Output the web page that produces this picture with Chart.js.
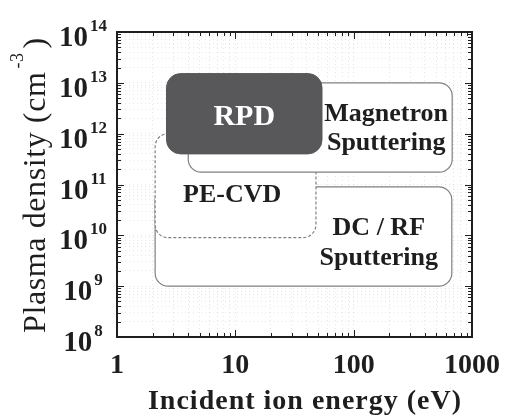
<!DOCTYPE html>
<html>
<head>
<meta charset="utf-8">
<script src="https://cdn.jsdelivr.net/npm/chart.js@4/dist/chart.umd.min.js"></script>
<style>
  html, body { margin: 0; padding: 0; background: #fff; overflow: hidden; }
  #wrap { width: 507px; height: 415px; position: relative; }
</style>
</head>
<body>
<div id="wrap"><canvas id="chart"></canvas></div>
<script>
// Operating windows of deposition processes: ion energy (eV) vs plasma density (cm^-3)
const regionNames = ['DC / RF Sputtering', 'PE-CVD', 'Magnetron Sputtering', 'RPD'];
const regionLabelLines = [['DC / RF', 'Sputtering'], ['PE-CVD'], ['Magnetron', 'Sputtering'], ['RPD']];
const energyMin = [2.1, 2.1, 4, 2.62];
const energyMax = [675, 48, 680, 54];
const densityMin = [1e9, 9e9, 1.75e11, 4e11];
const densityMax = [9e10, 1e12, 1e13, 1.52e13];

const energyDecades = [1, 10, 100, 1000];
const energyTickLabels = ['1', '10', '100', '1000'];
const densityDecades = [1e8, 1e9, 1e10, 1e11, 1e12, 1e13, 1e14];
const densityTickExponents = ['8', '9', '10', '11', '12', '13', '14'];

const SERIF = '"Liberation Serif", "Times New Roman", Times, serif';
const INK = '#1e1e1e';

// decade ticks plus 2..9 minor ticks between them
function logTicks(decades) {
  const out = [];
  decades.forEach((d, i) => {
    out.push({ value: d, major: true });
    if (i < decades.length - 1) {
      for (let m = 2; m <= 9; m++) out.push({ value: d * m, major: false });
    }
  });
  return out;
}

function roundRect(ctx, x0, y0, x1, y1, r) {
  const left = Math.min(x0, x1), right = Math.max(x0, x1);
  const top = Math.min(y0, y1), bottom = Math.max(y0, y1);
  ctx.beginPath();
  ctx.moveTo(left + r, top);
  ctx.lineTo(right - r, top);
  ctx.arcTo(right, top, right, top + r, r);
  ctx.lineTo(right, bottom - r);
  ctx.arcTo(right, bottom, right - r, bottom, r);
  ctx.lineTo(left + r, bottom);
  ctx.arcTo(left, bottom, left, bottom - r, r);
  ctx.lineTo(left, top + r);
  ctx.arcTo(left, top, left + r, top, r);
  ctx.closePath();
  return { left, right, top, bottom };
}

// where each region's caption sits inside its box
function labelLayout(index, b) {
  switch (index) {
    case 0: return { cx: b.right - 73, baselines: [b.top + 48, b.top + 78] };
    case 1: return { cx: b.left + 77, baselines: [b.bottom - 36] };
    case 2: return { cx: b.right - 66, baselines: [b.top + 38.5, b.top + 67] };
    default: return { cx: (b.left + b.right) / 2, baselines: [(b.top + b.bottom) / 2 + 11] };
  }
}

const regionPlugin = {
  id: 'regionBoxes',
  beforeDraw(chart) {
    const ctx = chart.ctx;
    ctx.save();
    ctx.fillStyle = '#ffffff';
    ctx.fillRect(0, 0, chart.width, chart.height);
    ctx.restore();
  },
  beforeDatasetsDraw(chart) {
    const ctx = chart.ctx;
    chart.data.datasets.forEach((ds, i) => {
      const pts = chart.getDatasetMeta(i).data;
      if (!pts || pts.length < 2) return;
      ctx.save();
      const b = roundRect(ctx, pts[0].x, pts[0].y, pts[1].x, pts[1].y, ds.cornerRadius);
      ctx.fillStyle = ds.backgroundColor;
      ctx.fill();
      ctx.setLineDash(ds.borderDash || []);
      ctx.lineWidth = ds.borderWidth;
      ctx.strokeStyle = ds.borderColor;
      ctx.stroke();
      ctx.setLineDash([]);
      const lay = labelLayout(i, b);
      ctx.fillStyle = ds.labelColor;
      ctx.font = 'bold ' + ds.labelSize + 'px ' + SERIF;
      ctx.textAlign = 'center';
      ctx.textBaseline = 'alphabetic';
      regionLabelLines[i].forEach((line, k) => ctx.fillText(line, lay.cx, lay.baselines[k]));
      ctx.restore();
    });
  },
  afterDraw(chart) {
    const ctx = chart.ctx;
    const a = chart.chartArea;
    const xs = chart.scales.x, ys = chart.scales.y;
    ctx.save();
    // inward tick marks on all four sides
    ctx.strokeStyle = INK;
    ctx.lineWidth = 1;
    ctx.beginPath();
    xs.ticks.forEach(t => {
      const px = Math.round(xs.getPixelForValue(t.value)) + 0.5;
      if (px <= a.left + 1 || px >= a.right - 1) return;
      const len = t.major ? 7 : 4;
      ctx.moveTo(px, a.bottom); ctx.lineTo(px, a.bottom - len);
      ctx.moveTo(px, a.top); ctx.lineTo(px, a.top + len);
    });
    ys.ticks.forEach(t => {
      const py = Math.round(ys.getPixelForValue(t.value)) + 0.5;
      if (py <= a.top + 1 || py >= a.bottom - 1) return;
      const len = t.major ? 7 : 4;
      ctx.moveTo(a.left, py); ctx.lineTo(a.left + len, py);
      ctx.moveTo(a.right, py); ctx.lineTo(a.right - len, py);
    });
    ctx.stroke();
    // plot frame
    ctx.lineWidth = 2;
    ctx.strokeRect(a.left, a.top, a.right - a.left, a.bottom - a.top);

    ctx.fillStyle = INK;
    ctx.textBaseline = 'alphabetic';
    // x tick labels
    ctx.font = 'bold 28px ' + SERIF;
    ctx.textAlign = 'center';
    energyDecades.forEach((v, i) => {
      ctx.fillText(energyTickLabels[i], xs.getPixelForValue(v), a.bottom + 36);
    });
    // y tick labels as 10 with a raised exponent
    ctx.textAlign = 'left';
    densityDecades.forEach((v, i) => {
      const py = ys.getPixelForValue(v);
      ctx.font = 'bold 29px ' + SERIF;
      const wBase = ctx.measureText('10').width;
      ctx.font = 'bold 17px ' + SERIF;
      const wExp = ctx.measureText(densityTickExponents[i]).width;
      const start = 83 - (wBase + 2 + wExp) / 2;
      ctx.font = 'bold 29px ' + SERIF;
      ctx.fillText('10', start, py + 14);
      ctx.font = 'bold 17px ' + SERIF;
      ctx.fillText(densityTickExponents[i], start + wBase + 2, py - 1);
    });
    // x axis title
    ctx.font = 'bold 28px ' + SERIF;
    ctx.letterSpacing = '1px';
    ctx.textAlign = 'center';
    ctx.fillText('Incident ion energy (eV)', 305, 409);
    // y axis title, rotated, with superscript unit
    ctx.translate(45, 333);
    ctx.rotate(-Math.PI / 2);
    ctx.textAlign = 'left';
    ctx.letterSpacing = '0.6px';
    ctx.font = '32px ' + SERIF;
    const main = 'Plasma density (cm';
    const w1 = ctx.measureText(main).width;
    ctx.fillText(main, 0, 0);
    ctx.font = '18px ' + SERIF;
    const sup = '-3';
    const w2 = ctx.measureText(sup).width;
    ctx.fillText(sup, w1 + 3, -22);
    ctx.font = '32px ' + SERIF;
    ctx.fillText(')', w1 + w2 + 7, 0);
    ctx.restore();
  }
};

const datasets = regionNames.map((name, i) => ({
  label: name,
  data: [{ x: energyMin[i], y: densityMin[i] }, { x: energyMax[i], y: densityMax[i] }],
  pointRadius: 0,
  pointHoverRadius: 0,
  showLine: false,
  backgroundColor: i === 3 ? '#58585b' : '#ffffff',
  borderColor: i === 3 ? '#58585b' : '#808080',
  borderWidth: i === 3 ? 1 : 1.2,
  borderDash: i === 1 ? [3, 2] : [],
  cornerRadius: i === 3 ? 14 : 13,
  labelColor: i === 3 ? '#ffffff' : INK,
  labelSize: i === 3 ? 30 : 26
}));

const gridStyle = {
  display: true,
  drawTicks: false,
  color: 'rgba(0,0,0,0.09)',
  lineWidth: 1
};

new Chart(document.getElementById('chart'), {
  type: 'scatter',
  data: { datasets },
  options: {
    responsive: true,
    maintainAspectRatio: false,
    animation: false,
    devicePixelRatio: 1,
    layout: { padding: { left: 117, right: 35, top: 32, bottom: 78 } },
    plugins: { legend: { display: false }, tooltip: { enabled: false } },
    events: [],
    scales: {
      x: {
        type: 'logarithmic',
        min: energyDecades[0],
        max: energyDecades[energyDecades.length - 1],
        afterBuildTicks: s => { s.ticks = logTicks(energyDecades); },
        ticks: { display: false },
        grid: gridStyle,
        border: { display: false, dash: [1, 3] }
      },
      y: {
        type: 'logarithmic',
        min: densityDecades[0],
        max: densityDecades[densityDecades.length - 1],
        afterBuildTicks: s => { s.ticks = logTicks(densityDecades); },
        ticks: { display: false },
        grid: gridStyle,
        border: { display: false, dash: [1, 3] }
      }
    }
  },
  plugins: [regionPlugin]
});
</script>
</body>
</html>
